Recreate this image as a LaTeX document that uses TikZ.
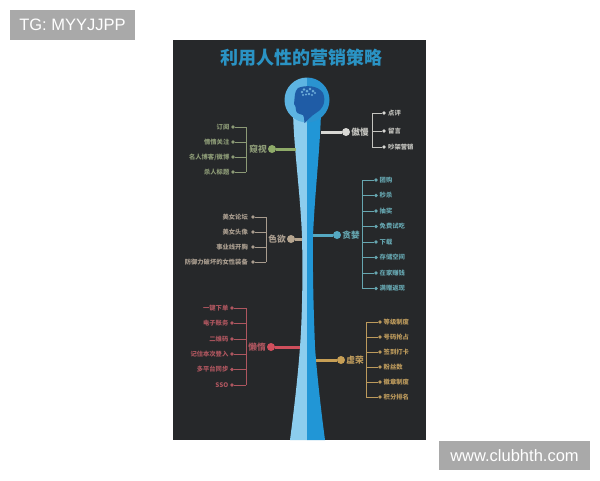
\documentclass[tikz,border=0pt]{standalone}
\usepackage{fontspec}
\setmainfont{Noto Sans CJK SC}
\newfontfamily\latinfont{Liberation Sans}
\definecolor{panel}{HTML}{26282A}
\definecolor{stemlight}{HTML}{8CCDEE}
\definecolor{stemdark}{HTML}{2196D6}
\definecolor{headlight}{HTML}{5DB4E2}
\definecolor{headdark}{HTML}{2A93D0}
\definecolor{headface}{HTML}{1F5CA6}
\definecolor{titleblue}{HTML}{2A93C4}
\definecolor{cgreen}{HTML}{8FAB69}
\definecolor{tgreen}{HTML}{8C9A76}
\definecolor{cwhite}{HTML}{D8D8D4}
\definecolor{twhite}{HTML}{C4C4BF}
\definecolor{cteal}{HTML}{55A9C2}
\definecolor{tteal}{HTML}{66A6B0}
\definecolor{ctan}{HTML}{B5A48E}
\definecolor{ttan}{HTML}{A89C8E}
\definecolor{cred}{HTML}{CF4F5C}
\definecolor{tred}{HTML}{AE565F}
\definecolor{cgold}{HTML}{C79F55}
\definecolor{tgold}{HTML}{BC9A5C}
\definecolor{tagbox}{HTML}{A9A9A9}
\tikzset{
  item/.style={font=\fontsize{6.3}{7}\selectfont\bfseries, inner sep=0pt, text=#1},
  itemleft/.style={item=#1, anchor=east},
  itemright/.style={item=#1, anchor=west},
  head label/.style={font=\fontsize{8.7}{10}\selectfont\bfseries, inner sep=0pt, text=#1},
  hub/.style={circle, fill=#1, minimum size=8pt, inner sep=0pt},
  dot/.style={circle, fill=#1, minimum size=3.6pt, inner sep=0pt},
  spoke/.style={draw=#1, line width=3pt},
  twig/.style={draw=#1, line width=0.8pt},
  tag/.style={text=white, inner sep=0pt, font=\latinfont\fontsize{16.5}{18}\selectfont, anchor=center}
}
\begin{document}
\begin{tikzpicture}[x=1pt,y=-1pt]
\useasboundingbox (0,0) rectangle (600,480);
\fill[white] (0,0) rectangle (600,480);
\fill[panel] (173,40) rectangle (426,440);

% stem of the central figure, light left half and darker right half
\fill[stemlight] (307,110) -- (293,112) .. controls (294,150) and (300,190) .. (302,236)
  .. controls (303,280) and (302,320) .. (300,347)
  .. controls (298,375) and (294,410) .. (290,440) -- (307,440) -- cycle;
\fill[stemdark] (307,110) -- (321,112) .. controls (320,150) and (315,190) .. (313,236)
  .. controls (312.5,280) and (314,320) .. (315,347)
  .. controls (317,375) and (321,410) .. (325,440) -- (307,440) -- cycle;

% round head with a profile inside
\fill[headlight] (307,77.5) arc[start angle=-90,end angle=-270,radius=22.5] -- cycle;
\fill[headdark] (307,77.5) arc[start angle=-90,end angle=90,radius=22.5] -- cycle;
\fill[headface] (298,88) .. controls (305,85) and (318,85) .. (323,93)
  .. controls (326,101) and (324,108) .. (316,113)
  .. controls (311,116) and (308,120) .. (304.5,123)
  .. controls (304,118) and (304,116) .. (303,115)
  .. controls (299,114) and (296,113) .. (296,110)
  .. controls (295,107) and (296,105) .. (294,104)
  .. controls (295,97) and (294,92) .. (298,88) -- cycle;
\foreach \a/\b/\r in {302/92/1.4,304/89.5/1.3,307/91/1.5,310/89/1.4,313/91/1.5,315/93/1.2,303/95/1.1,306/94.5/1.2,309/94/1.3,312/95/1.2}
  \fill[stemlight!70!headface] (\a,\b) circle[radius=\r];

\node[font=\fontsize{18}{20}\selectfont\bfseries, text=titleblue, inner sep=0pt] (title) at (301,58) {利用人性的营销策略};

% branch: peeping
\coordinate (k0) at (296,149);
\node[hub=cgreen] (kh) at (272,149) {};
\draw[spoke=cgreen] (k0) -- (kh);
\node[head label=tgreen] (kl) at (258,149.5) {窥视};
\coordinate (kt) at (246,127); \coordinate (kb) at (246,172);
\draw[twig=tgreen] (kt) -- (kb);
\foreach \i/\y/\t in {1/127/订阅,2/142/情情关注,3/157/{名人博客/微博},4/172/杀人标题}{
  \node[dot=tgreen] (kd\i) at (233,\y) {};
  \draw[twig=tgreen] (246,\y) -- (kd\i);
  \node[itemleft=tgreen] (kx\i) at (229.5,\y) {\t};
}

% branch: pride
\coordinate (a0) at (321,132);
\node[hub=cwhite] (ah) at (346,132) {};
\draw[spoke=cwhite] (a0) -- (ah);
\node[head label=twhite] (al) at (360,132) {傲慢};
\coordinate (at1) at (372,113); \coordinate (ab1) at (372,147);
\draw[twig=twhite] (at1) -- (ab1);
\foreach \i/\y/\t in {1/113/点评,2/131/留言,3/147/吵架营销}{
  \node[dot=cwhite] (ad\i) at (384,\y) {};
  \draw[twig=twhite] (372,\y) -- (ad\i);
  \node[itemright=twhite] (ax\i) at (388,\y) {\t};
}

% branch: greed
\coordinate (g0) at (313,235);
\node[hub=cteal] (gh) at (337,235) {};
\draw[spoke=cteal] (g0) -- (gh);
\node[head label=tteal] (gl) at (351,235) {贪婪};
\coordinate (gt) at (362,180); \coordinate (gb) at (362,288.5);
\draw[twig=tteal] (gt) -- (gb);
\foreach \i/\y/\t in {1/180/团购,2/195.5/秒杀,3/211/抽奖,4/226.5/免费试吃,5/242/下载,6/257.5/存储空间,7/273/在家赚钱,8/288.5/满赠返现}{
  \node[dot=tteal] (gd\i) at (376,\y) {};
  \draw[twig=tteal] (362,\y) -- (gd\i);
  \node[itemright=tteal] (gx\i) at (379.5,\y) {\t};
}

% branch: lust
\coordinate (s0) at (302,239);
\node[hub=ctan] (sh) at (291,239) {};
\draw[spoke=ctan] (s0) -- (sh);
\node[head label=ttan] (sl) at (277,239.5) {色欲};
\coordinate (st) at (266,217); \coordinate (sb) at (266,262);
\draw[twig=ttan] (st) -- (sb);
\foreach \i/\y/\t in {1/217/美女论坛,2/232/美女头像,3/247/事业线开胸,4/262/防御力破坏的女性装备}{
  \node[dot=ttan] (sd\i) at (253,\y) {};
  \draw[twig=ttan] (266,\y) -- (sd\i);
  \node[itemleft=ttan] (sx\i) at (248,\y) {\t};
}

% branch: sloth
\coordinate (l0) at (300,347);
\node[hub=cred] (lh) at (271,347) {};
\draw[spoke=cred] (l0) -- (lh);
\node[head label=tred] (ll) at (257,347) {懒惰};
\coordinate (lt) at (246,308); \coordinate (lb) at (246,385);
\draw[twig=tred] (lt) -- (lb);
\foreach \i/\y/\t in {1/308/一键下单,2/323/电子账务,3/339/二维码,4/354/记住本次登入,5/369.5/多平台同步,6/385/SSO}{
  \node[dot=tred] (ld\i) at (232,\y) {};
  \draw[twig=tred] (246,\y) -- (ld\i);
  \node[itemleft=tred] (lx\i) at (228.5,\y) {\t};
}

% branch: vanity
\coordinate (v0) at (316,360);
\node[hub=cgold] (vh) at (341,360) {};
\draw[spoke=cgold] (v0) -- (vh);
\node[head label=tgold] (vl) at (355,360) {虚荣};
\coordinate (vt) at (366,322); \coordinate (vb) at (366,397);
\draw[twig=tgold] (vt) -- (vb);
\foreach \i/\y/\t in {1/322/等级制度,2/337/号码抢占,3/352/签到打卡,4/367/粉丝数,5/382/徽章制度,6/397/积分排名}{
  \node[dot=tgold] (vd\i) at (380,\y) {};
  \draw[twig=tgold] (366,\y) -- (vd\i);
  \node[itemright=tgold] (vx\i) at (383.5,\y) {\t};
}

% corner tags
\fill[tagbox] (10,10) rectangle (135,40);
\node[tag] (tagl) at (72.5,25) {TG: MYYJJPP};
\fill[tagbox] (439,441) rectangle (590,470);
\node[tag] (tagr) at (514.5,455.5) {www.clubhth.com};
\end{tikzpicture}
\end{document}
